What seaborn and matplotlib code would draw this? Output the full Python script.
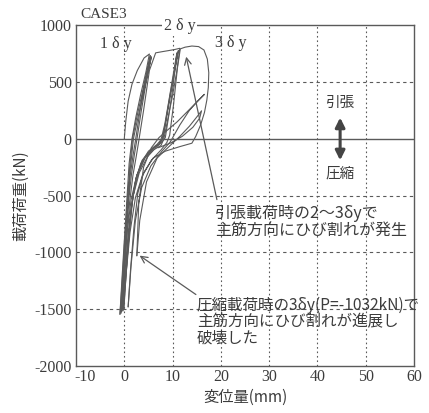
import matplotlib
matplotlib.use("Agg")
import matplotlib.pyplot as plt
import matplotlib.transforms as mtransforms
import numpy as np
import pandas as pd
import seaborn as sns

# ---- data ----
cyc1_x = [0.0, 0.3, 0.8, 1.6, 2.7, 4.1, 5.2, 4.5, 3.4, 2.4, 1.6, 1.0, 0.5, 0.0, -0.5, -0.9]
cyc1_y = [0, 150, 330, 480, 600, 710, 745, 590, 390, 190, 0, -220, -560, -950, -1300, -1545]
cyc2_x = [-0.9, -0.5, 0.0, 0.6, 1.2, 1.8, 2.3, 3.2, 4.2, 5.4, 4.7, 3.6, 2.5, 1.7, 1.1, 0.5, -0.1, -0.6]
cyc2_y = [-1545, -1250, -900, -560, -330, -150, -20, 230, 480, 730, 590, 380, 170, 0, -260, -680, -1120, -1520]
cyc3_x = [-0.6, -0.2, 0.3, 0.9, 1.5, 2.1, 2.6, 3.5, 4.5, 5.6, 4.9, 3.8, 2.7, 1.9, 1.2, 0.6, 0.0, -0.4]
cyc3_y = [-1520, -1230, -880, -540, -310, -140, -10, 240, 490, 720, 580, 370, 160, 0, -280, -700, -1130, -1500]
cyc4_x = [-0.4, 0.0, 0.5, 1.1, 1.8, 2.5, 3.0, 4.0, 5.2, 6.5, 7.8, 9.2, 10.5, 11.5, 10.9, 10.0, 9.0, 8.2,
          7.6, 6.0, 4.3, 2.9, 1.8, 1.0, 0.3, -0.3, -0.7]
cyc4_y = [-1500, -1220, -880, -560, -320, -150, -20, 250, 600, 755, 765, 775, 785, 795, 600, 380, 170, 0,
          -60, -100, -170, -300, -510, -850, -1200, -1400, -1535]
cyc5_x = [-0.7, -0.2, 0.5, 1.4, 2.6, 4.2, 5.9, 7.3, 8.0, 8.6, 9.5, 10.4, 11.2, 10.5, 9.5, 8.6, 7.9, 7.2,
          5.4, 3.7, 2.4, 1.5, 0.8, 0.2, -0.3]
cyc5_y = [-1535, -1230, -860, -540, -320, -170, -90, -40, 0, 160, 390, 600, 775, 600, 370, 150, 0, -50,
          -100, -190, -350, -600, -950, -1280, -1515]
cyc6_x = [-0.3, 0.1, 0.8, 1.8, 3.1, 4.8, 6.5, 7.8, 8.5, 9.2, 10.0, 10.9, 10.2, 9.3, 8.4, 7.6, 6.8, 5.0,
          3.4, 2.2, 1.3, 0.7, 0.2, -0.1]
cyc6_y = [-1515, -1200, -830, -510, -300, -160, -80, -30, 10, 200, 430, 755, 580, 350, 130, -10, -50, -110,
          -220, -400, -660, -1000, -1300, -1500]
cyc7_x = [-0.1, 0.4, 1.2, 2.3, 3.7, 5.6, 7.6, 8.8, 9.4, 10.2, 11.0, 11.6, 12.6, 14.0, 15.4, 16.5, 17.2, 17.5,
          17.4, 17.1, 16.6, 15.8, 14.8, 14.0, 11.5, 8.5, 6.0, 4.0, 2.8, 2.0, 1.3, 0.8]
cyc7_y = [-1500, -1180, -820, -520, -330, -190, -100, -35, 30, 300, 620, 790, 805, 815, 810, 780, 700, 580,
          450, 340, 230, 120, 20, -40, -70, -110, -170, -300, -480, -780, -1150, -1480]
cyc8_x = [0.8, 1.4, 2.3, 3.6, 5.5, 7.8, 9.5, 11.5, 13.5, 15.2, 16.6, 13.8, 11.0, 8.8, 7.2, 5.6, 4.0, 3.0, 2.6]
cyc8_y = [-1480, -1120, -720, -430, -240, -110, -30, 120, 250, 330, 390, 270, 150, 70, 10, -80, -250, -560, -1030]
cyc9_x = [2.6, 3.2, 4.6, 6.8, 9.5, 11.5, 13.5, 15.0, 16.0, 15.6, 14.2, 12.0, 9.5, 7.0]
cyc9_y = [-1030, -720, -380, -170, -60, 20, 110, 190, 245, 180, 100, 20, -40, -80]

x_ticks = [-10, 0, 10, 20, 30, 40, 50, 60]
y_ticks = [-2000, -1500, -1000, -500, 0, 500, 1000]

cycles = [(cyc1_x, cyc1_y), (cyc2_x, cyc2_y), (cyc3_x, cyc3_y), (cyc4_x, cyc4_y),
          (cyc5_x, cyc5_y), (cyc6_x, cyc6_y), (cyc7_x, cyc7_y), (cyc8_x, cyc8_y),
          (cyc9_x, cyc9_y)]
frames = []
for i, (cx, cy) in enumerate(cycles):
    frames.append(pd.DataFrame({"disp": cx, "load": cy, "cycle": i}))
df = pd.concat(frames, ignore_index=True)

# ---- style ----
sns.set_style("white")
JP = ["Noto Sans CJK JP", "DejaVu Sans"]
SERIF = ["Liberation Serif", "DejaVu Serif"]
plt.rcParams["font.family"] = JP
TXT = "#3c3c3c"
LINE = "#5a5a5a"

fig = plt.figure(figsize=(4.29, 4.13), dpi=100)
ax = fig.add_axes([76 / 429, 1 - 366 / 413, (414 - 76) / 429, (366 - 25) / 413])

# grid
for yv in [500, -500, -1000, -1500]:
    ax.axhline(yv, color=LINE, lw=0.8, ls=(0, (3, 3)), zorder=0)
for xv in [0, 10, 20, 30, 40, 50]:
    ax.axvline(xv, color=LINE, lw=0.8, ls=(0, (1.5, 2.5)), zorder=0)
ax.axhline(0, color=LINE, lw=1.0, zorder=1)

sns.lineplot(data=df, x="disp", y="load", units="cycle", estimator=None, sort=False,
             color=LINE, lw=0.8, ax=ax, legend=False)

ax.set_xlim(-10, 60)
ax.set_ylim(-2000, 1000)
ax.set_xticks(x_ticks)
ax.set_yticks(y_ticks)
ax.set_xticklabels([str(v) for v in x_ticks], family=SERIF, fontsize=11.5, color=TXT)
ax.set_yticklabels([str(v) for v in y_ticks], family=SERIF, fontsize=11.5, color=TXT)
ax.tick_params(axis="x", direction="in", length=5, color=LINE, pad=2)
ax.tick_params(axis="y", length=0, pad=3)
for s in ax.spines.values():
    s.set_color(LINE)
    s.set_linewidth(1.0)

# shift the first x tick label right (as in the reference, it sits beside -2000)
first = ax.get_xticklabels()[0]
first.set_transform(first.get_transform() +
                    mtransforms.ScaledTranslation(9 / 100, 0, fig.dpi_scale_trans))

ax.set_xlabel("変位量(mm)", fontsize=11, color=TXT, labelpad=3)
ax.set_ylabel("載荷荷重(kN)", fontsize=11, color=TXT, labelpad=4)

# labels at top
fig.text(80 / 429, 1 - 14 / 413, "CASE3", family=SERIF, fontsize=11, color=TXT, va="center")
ax.text(-1.7, 830, "1 δ y", family=SERIF, fontsize=11.5, color=TXT, ha="center", va="center")
ax.text(11.4, 990, "2 δ y", family=SERIF, fontsize=11.5, color=TXT, ha="center", va="center",
        bbox=dict(facecolor="white", edgecolor="none", pad=1), clip_on=False)
ax.text(22.0, 840, "3 δ y", family=SERIF, fontsize=11.5, color=TXT, ha="center", va="center")

# tension / compression indicator
ax.text(44.7, 316, "引張", fontsize=10.5, color=TXT, ha="center", va="center")
ax.text(44.7, -307, "圧縮", fontsize=10.5, color=TXT, ha="center", va="center")
ax.annotate("", xy=(44.7, 210), xytext=(44.7, -215),
            arrowprops=dict(arrowstyle="<|-|>", color="#444444", lw=2.2, mutation_scale=14))

# annotations
ax.annotate("", xy=(12.7, 745), xytext=(19.3, -560),
            arrowprops=dict(arrowstyle="->", color=LINE, lw=0.9, mutation_scale=12))
ax.text(18.8, -585, "引張載荷時の2～3δyで\n主筋方向にひび割れが発生", fontsize=11.5,
        color=TXT, ha="left", va="top", linespacing=1.0)
ax.annotate("", xy=(2.7, -1015), xytext=(15.3, -1385),
            arrowprops=dict(arrowstyle="->", color=LINE, lw=0.9, mutation_scale=12))
ax.text(15.0, -1390, "圧縮載荷時の3δy(P=-1032kN)で\n主筋方向にひび割れが進展し\n破壊した",
        fontsize=11.2, color=TXT, ha="left", va="top", linespacing=0.95, clip_on=False)

fig.savefig("out.png", dpi=100)
